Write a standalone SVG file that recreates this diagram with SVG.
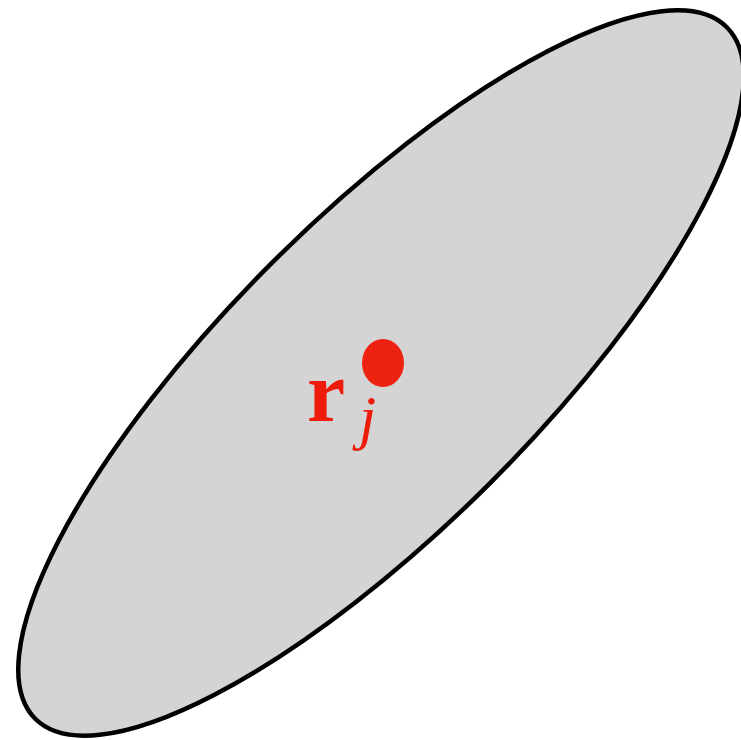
<svg xmlns="http://www.w3.org/2000/svg" width="741" height="740" viewBox="0 0 741 740">
<style>
.lbl{fill:#ee1a0a;font-family:"Liberation Serif","DejaVu Serif",serif}
</style>
<rect width="741" height="740" fill="#ffffff"/>
<g id="region">
<ellipse cx="381" cy="373" rx="489" ry="155" transform="rotate(-45 381 373)" fill="#d4d4d4" stroke="#000" stroke-width="4.5"/>
</g>
<g id="point">
<ellipse cx="383" cy="363" rx="21" ry="24" fill="#ee2211"/>
<text class="lbl" x="307" y="421" font-size="86" font-weight="bold">r</text>
<text class="lbl" x="359" y="438" font-size="62" font-style="italic">j</text>
</g>
</svg>
